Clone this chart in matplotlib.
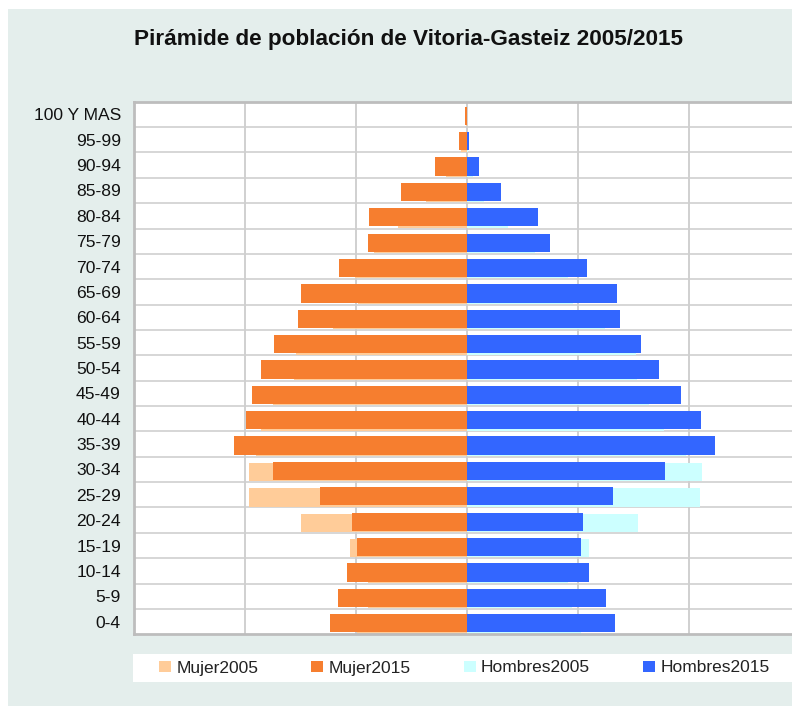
import numpy as np
import matplotlib
matplotlib.use('Agg')
import matplotlib.pyplot as plt
from matplotlib.patches import Rectangle

# datos (personas), de abajo (0-4) hacia arriba (100 Y MAS)
edades = ['0-4', '5-9', '10-14', '15-19', '20-24', '25-29', '30-34', '35-39',
          '40-44', '45-49', '50-54', '55-59', '60-64', '65-69', '70-74',
          '75-79', '80-84', '85-89', '90-94', '95-99', '100 Y MAS']

mujer2005 = [4937, 4446, 4450, 5261, 7464, 9800, 9788, 9473, 9248, 8707, 7780,
             7700, 6050, 4910, 5059, 4203, 3108, 1829, 928, 252, 50]
mujer2015 = [6153, 5793, 5396, 4937, 5167, 6608, 8716, 10464, 9923, 9653, 9248,
             8662, 7581, 7446, 5779, 4473, 4428, 2986, 1455, 374, 100]
hombres2005 = [5144, 4700, 4550, 5486, 7707, 10482, 10577, 9851, 8860, 8185, 7650,
               7599, 6203, 4761, 4536, 3050, 1833, 752, 250, 40, 10]
hombres2015 = [6662, 6266, 5505, 5144, 5221, 6568, 8924, 11158, 10527, 9626, 8635,
               7824, 6878, 6743, 5392, 3725, 3185, 1518, 527, 77, 20]

titulo = 'Pirámide de población de Vitoria-Gasteiz 2005/2015'

plt.rcParams['font.family'] = ['Liberation Sans', 'DejaVu Sans']

W, H = 792, 709
fig = plt.figure(figsize=(W / 100, H / 100), dpi=100)
fig.patch.set_facecolor('white')

# fondo del grafico
fig.patches.append(Rectangle((8 / W, 1 - 706 / H), (W - 8) / W, (706 - 9) / H,
                             transform=fig.transFigure, facecolor='#e4eeec',
                             edgecolor='none', zorder=-10))
# caja blanca de la leyenda
fig.patches.append(Rectangle((133 / W, 1 - 682 / H), (W - 133) / W, 28 / H,
                             transform=fig.transFigure, facecolor='white',
                             edgecolor='none', zorder=-5))

# el area de trazado sobresale por la derecha (recortada como en la imagen)
ax = fig.add_axes([133.5 / W, 1 - 634.3 / H, 667.1 / W, 532.6 / H])
ax.set_facecolor('white')

y = np.arange(len(edades))
h = 0.72
c_m05, c_m15 = '#ffcc99', '#f67e2f'
c_h05, c_h15 = '#ccffff', '#3366ff'

b1 = ax.barh(y - 0.11, -np.array(mujer2005), height=h, color=c_m05, label='Mujer2005', zorder=2)
b2 = ax.barh(y - 0.06, -np.array(mujer2015), height=h, color=c_m15, label='Mujer2015', zorder=3)
b3 = ax.barh(y - 0.11, hombres2005, height=h, color=c_h05, label='Hombres2005', zorder=2)
b4 = ax.barh(y - 0.06, hombres2015, height=h, color=c_h15, label='Hombres2015', zorder=3)

ax.set_xlim(-15000, 15000)
ax.set_ylim(-0.5, len(edades) - 0.5)

ax.set_xticks(np.arange(-10000, 10001, 5000))
ax.set_xticklabels([])
ax.set_yticks(y)
ax.set_yticklabels(edades, fontsize=12.6, color='#111111')
ax.set_yticks(y[:-1] + 0.5, minor=True)
ax.tick_params(axis='both', which='both', length=0)
ax.tick_params(axis='y', pad=9)

ax.grid(axis='x', which='major', color='#c8c8c8', lw=1.2, zorder=0)
ax.grid(axis='y', which='minor', color='#cfcfcf', lw=1.2, zorder=0)
ax.set_axisbelow(True)

for s in ['left', 'top', 'bottom']:
    ax.spines[s].set_color('#bdbdbd')
    ax.spines[s].set_linewidth(2)
ax.spines['right'].set_visible(False)

fig.text(408 / W, 1 - 39 / H, titulo, ha='center', va='center',
         fontsize=16.2, fontweight='bold', color='#111111')

fig.legend(handles=[b1, b2, b3, b4], loc='center left',
           bbox_to_anchor=(159 / W, 1 - 668 / H), ncol=4, frameon=False,
           fontsize=12.5, handlelength=0.7, handleheight=0.57,
           handletextpad=0.3, columnspacing=3.05, borderpad=0,
           borderaxespad=0, labelcolor='#222222')

fig.savefig('out.png', dpi=100)
